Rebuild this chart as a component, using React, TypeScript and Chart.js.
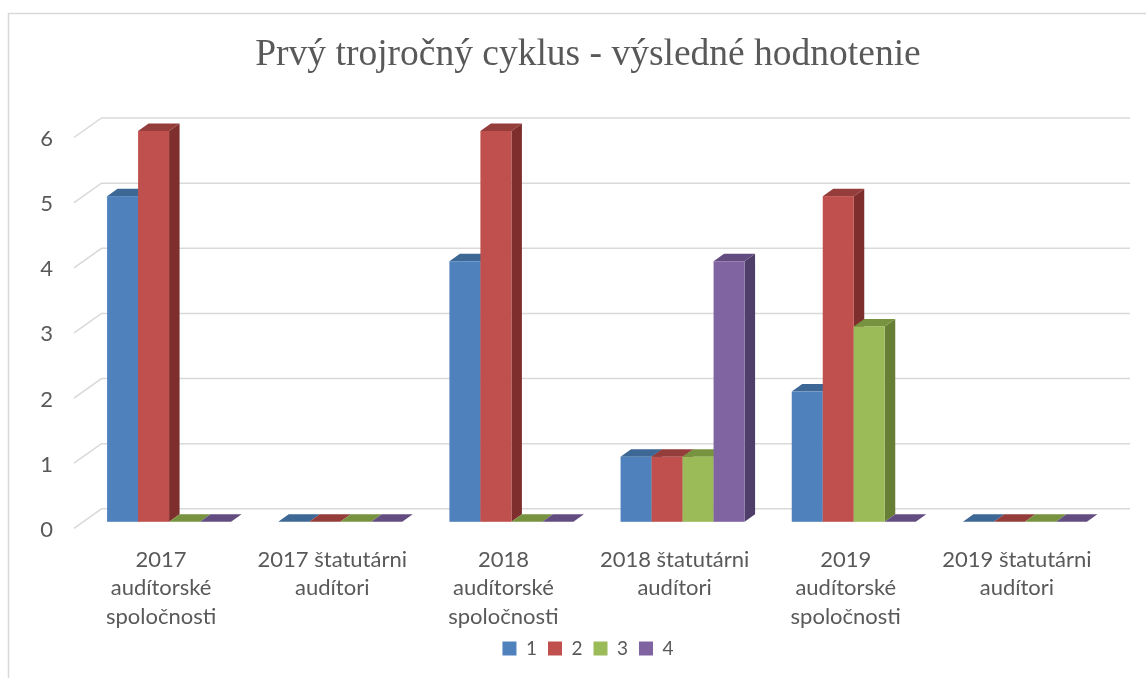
import React, { useEffect, useRef } from "react";
import { Chart, registerables } from "chart.js";
Chart.register(...registerables);

const categories: string[][] = [
  ["2017", "audítorské", "spoločnosti"],
  ["2017 štatutárni", "audítori"],
  ["2018", "audítorské", "spoločnosti"],
  ["2018 štatutárni", "audítori"],
  ["2019", "audítorské", "spoločnosti"],
  ["2019 štatutárni", "audítori"],
];
const seriesNames = ["1", "2", "3", "4"];
const series1 = [5, 0, 4, 1, 2, 0];
const series2 = [6, 0, 6, 1, 5, 0];
const series3 = [0, 0, 0, 1, 3, 0];
const series4 = [0, 0, 0, 4, 0, 0];
const yTicks = [0, 1, 2, 3, 4, 5, 6];
const titleText = "Prvý trojročný cyklus - výsledné hodnotenie";

const frontColors = ["#4F81BD", "#C0504D", "#9BBB59", "#8064A2"];
const topColors = ["#3D6795", "#943D3A", "#77933F", "#634D80"];
const sideColors = ["#355A86", "#7E2F2D", "#677F34", "#4F3E69"];

const DX = 10.5;
const DY = 7.5;
const TEXT = "#595959";
const LABEL_FONT = "Lato";

const bars3d = {
  id: "bars3d",
  beforeDraw(chart: any) {
    const ctx = chart.ctx;
    ctx.save();
    ctx.fillStyle = "#ffffff";
    ctx.fillRect(0, 0, chart.width, chart.height);
    ctx.strokeStyle = "#d9d9d9";
    ctx.lineWidth = 1.5;
    ctx.strokeRect(8.5, 13.5, 3000, 3000);
    ctx.restore();
  },
  beforeDatasetsDraw(chart: any) {
    const ctx = chart.ctx;
    const area = chart.chartArea;
    const y = chart.scales.y;
    ctx.save();
    ctx.strokeStyle = "#d9d9d9";
    ctx.lineWidth = 1.5;
    for (const v of yTicks) {
      const p = y.getPixelForValue(v);
      ctx.beginPath();
      ctx.moveTo(area.left - 9.5, p + 6.5);
      ctx.lineTo(area.left + 18, p - 13);
      ctx.lineTo(area.right + 19.5, p - 13);
      ctx.stroke();
    }
    const n = chart.data.labels.length;
    const nd = chart.data.datasets.length;
    for (let i = 0; i < n; i++) {
      for (let d = 0; d < nd; d++) {
        const el = chart.getDatasetMeta(d).data[i];
        if (!el) continue;
        const { x, y: top, base, width } = el.getProps(["x", "y", "base", "width"], true);
        const L = x - width / 2;
        const R = x + width / 2;
        if (base - top > 0.5) {
          ctx.fillStyle = sideColors[d];
          ctx.beginPath();
          ctx.moveTo(R, top);
          ctx.lineTo(R + DX, top - DY);
          ctx.lineTo(R + DX, base - DY);
          ctx.lineTo(R, base);
          ctx.closePath();
          ctx.fill();
        }
        ctx.fillStyle = topColors[d];
        ctx.beginPath();
        ctx.moveTo(L, top);
        ctx.lineTo(L + DX, top - DY);
        ctx.lineTo(R + DX, top - DY);
        ctx.lineTo(R, top);
        ctx.closePath();
        ctx.fill();
        if (base - top > 0.5) {
          ctx.fillStyle = frontColors[d];
          ctx.fillRect(L, top, width, base - top);
        }
      }
    }
    ctx.restore();
    return false;
  },
};

export default function App() {
  const ref = useRef<HTMLCanvasElement | null>(null);
  useEffect(() => {
    document.body.style.margin = "0";
    const canvas = ref.current!;
    const seriesData = [series1, series2, series3, series4];
    const chart = new Chart(canvas, {
      type: "bar",
      data: {
        labels: categories,
        datasets: seriesNames.map((name, k) => ({
          label: name,
          data: seriesData[k],
          backgroundColor: frontColors[k],
          borderWidth: 0,
          categoryPercentage: 0.7245,
          barPercentage: 1,
        })),
      },
      options: {
        responsive: false,
        animation: false,
        devicePixelRatio: 1,
        events: [],
        layout: { padding: { left: 30, right: 0, top: 0, bottom: 10 } },
        scales: {
          x: {
            grid: { display: false, drawTicks: false },
            border: { display: false },
            ticks: {
              autoSkip: false,
              maxRotation: 0,
              minRotation: 0,
              padding: 24,
              labelOffset: -8,
              color: TEXT,
              font: { family: LABEL_FONT, size: 22, lineHeight: 1.29 },
            },
            afterFit: (s: any) => {
              s.height = 106.2;
            },
          },
          y: {
            min: 0,
            max: 6,
            grid: { display: false, drawTicks: false },
            border: { display: false },
            ticks: {
              stepSize: 1,
              padding: 30.5,
              labelOffset: 8,
              color: TEXT,
              font: { family: LABEL_FONT, size: 22 },
            },
            afterFit: (s: any) => {
              s.width = 53.5;
            },
          },
          y2: {
            position: "right",
            display: true,
            grid: { display: false, drawTicks: false },
            border: { display: false },
            ticks: { display: false },
            afterFit: (s: any) => {
              s.width = 35.5;
            },
          },
        },
        plugins: {
          title: {
            display: true,
            text: titleText,
            color: TEXT,
            font: { family: "Liberation Serif", size: 37.5, weight: "normal", lineHeight: 1.2 },
            padding: { top: 33, bottom: 53 },
          },
          legend: {
            display: true,
            position: "bottom",
            labels: {
              boxWidth: 14,
              boxHeight: 14,
              padding: 11,
              color: TEXT,
              font: { family: LABEL_FONT, size: 19 },
            },
          },
          tooltip: { enabled: false },
        },
      },
      plugins: [bars3d],
    });
    return () => chart.destroy();
  }, []);
  return (
    <div style={{ width: 1146, height: 678 }}>
      <canvas ref={ref} width={1146} height={678} style={{ display: "block" }} />
    </div>
  );
}
